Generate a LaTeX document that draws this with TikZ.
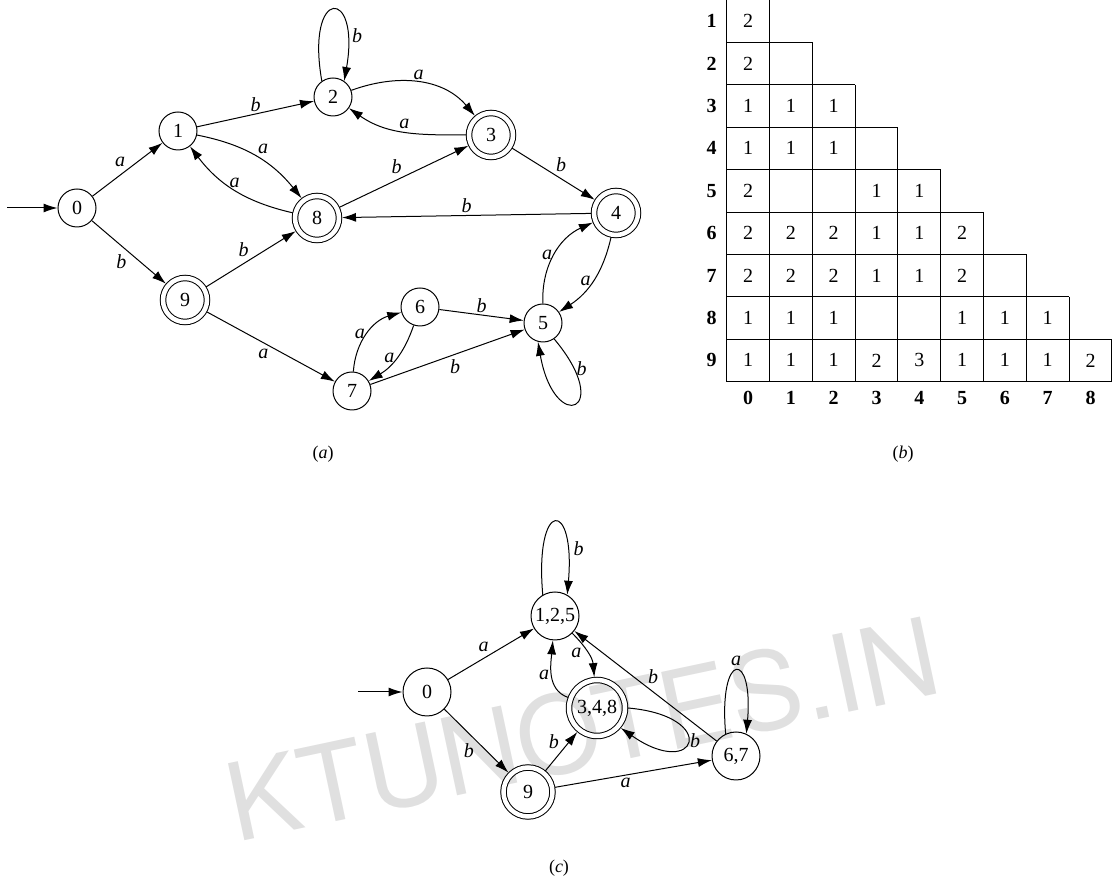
\documentclass[tikz,border=0pt]{standalone}
\usepackage{fontspec}
\setmainfont{Liberation Serif}
\newfontfamily\markfont{TeX Gyre Heros}
\usetikzlibrary{arrows.meta}

\begin{document}
\begin{tikzpicture}[x=1pt, y=1pt]
	\tikzset{
		state/.style={circle, draw, line width=1pt, minimum size=38pt, inner sep=0pt, font=\fontsize{20}{22}\selectfont},
		final/.style={state, double, double distance=4.5pt, minimum size=44pt, outer sep=3pt},
		bigstate/.style={state, minimum size=48pt},
		bigfinal/.style={final, minimum size=49pt},
		edge/.style={draw, line width=1pt, -{Latex[length=14pt,width=9pt]}},
		lbl/.style={font=\fontsize{20}{22}\selectfont\itshape, inner sep=2pt},
		grid/.style={draw, line width=0.9pt},
		cell/.style={font=\fontsize{20}{22}\selectfont},
		head/.style={font=\fontsize{20}{22}\selectfont\bfseries},
		caption/.style={font=\fontsize{18}{20}\selectfont}
	}
	\useasboundingbox (0,0) rectangle (1112,878);
	
	% Watermark
	\node[font=\markfont\fontsize{108}{108}\selectfont, text=black!12, rotate=12, anchor=base west, inner sep=0pt] (mark) at (236,35) {KTUNOTES.IN};
	
	% Part (a)
	\node[state] (n0) at (77,670) {0};
	\node[state] (n1) at (178,747) {1};
	\node[state] (n2) at (333,781) {2};
	\node[final] (n3) at (491,743) {3};
	\node[final] (n4) at (616,665) {4};
	\node[state] (n5) at (543,555) {5};
	\node[state] (n6) at (420,571) {6};
	\node[state] (n7) at (352,487) {7};
	\node[final] (n8) at (317,660) {8};
	\node[final] (n9) at (185,578) {9};
	\coordinate (inA) at (7,670);
	
	\draw[edge] (inA) -- (n0);
	\draw[edge] (n0) -- node[lbl, above left] {a} (n1);
	\draw[edge] (n0) -- node[lbl, below left] {b} (n9);
	\draw[edge] (n1) -- node[lbl, above] {b} (n2);
	\draw[edge] (n1) to[bend left=20] node[lbl, above right] {a} (n8);
	\draw[edge] (n8) to[bend left=20] node[lbl, above] {a} (n1);
	\draw[edge] (n2.125) to[out=100, in=80, distance=96pt] node[lbl, right=3pt, pos=0.8] {b} (n2.55);
	\draw[edge] (n2) to[out=20, in=130] node[lbl, above] {a} (n3);
	\draw[edge] (n3) to[out=180, in=-35] node[lbl, above] {a} (n2);
	\draw[edge] (n8) -- node[lbl, above left] {b} (n3);
	\draw[edge] (n3) -- node[lbl, above right] {b} (n4);
	\draw[edge] (n4) -- node[lbl, above] {b} (n8);
	\draw[edge] (n9) -- node[lbl, above left] {b} (n8);
	\draw[edge] (n9) -- node[lbl, below left] {a} (n7);
	\draw[edge] (n7) to[bend left=35] node[lbl, left] {a} (n6);
	\draw[edge] (n6) to[bend left=20] node[lbl, left] {a} (n7);
	\draw[edge] (n6) -- node[lbl, above] {b} (n5);
	\draw[edge] (n7) -- node[lbl, below right] {b} (n5);
	\draw[edge] (n5) to[bend left=34] node[lbl, left] {a} (n4);
	\draw[edge] (n4) to[bend left=22] node[lbl, left] {a} (n5);
	\draw[edge] (n5.-55) to[out=-50, in=-80, distance=95pt] node[lbl, right, pos=0.15] {b} (n5.-105);
	
	% Part (b)
	\foreach \k in {0,...,9} {
		\pgfmathsetmacro\ytop{878-(max(\k,1)-1)*42.4}
		\draw[grid] ({726.7+42.8*\k}, \ytop) -- ({726.7+42.8*\k}, 496.4);
	}
	\foreach \i in {1,...,9} {
		\pgfmathsetmacro\xend{726.7+42.8*min(\i+1,9)}
		\draw[grid] (726.7, {878-42.4*\i}) -- (\xend, {878-42.4*\i});
		\node[head] (r\i) at (711.7, {899.2-42.4*\i}) {\i};
	}
	\foreach \j in {0,...,8}
		\node[head] (c\j) at ({748.1+42.8*\j}, 480) {\j};
	\foreach \i/\j/\v in {1/0/2, 2/0/2,
			3/0/1, 3/1/1, 3/2/1,
			4/0/1, 4/1/1, 4/2/1,
			5/0/2, 5/3/1, 5/4/1,
			6/0/2, 6/1/2, 6/2/2, 6/3/1, 6/4/1, 6/5/2,
			7/0/2, 7/1/2, 7/2/2, 7/3/1, 7/4/1, 7/5/2,
			8/0/1, 8/1/1, 8/2/1, 8/5/1, 8/6/1, 8/7/1,
			9/0/1, 9/1/1, 9/2/1, 9/3/2, 9/4/3, 9/5/1, 9/6/1, 9/7/1, 9/8/2}
		\node[cell] (v\i\j) at ({748.1+42.8*\j}, {899.2-42.4*\i}) {\v};
	
	% Part (c)
	\node[bigstate] (m0) at (427,186) {0};
	\node[bigstate] (m125) at (555,262) {1,2,5};
	\node[bigfinal, minimum size=56pt] (m348) at (597,170) {3,4,8};
	\node[bigfinal] (m9) at (528,86) {9};
	\node[bigstate] (m67) at (736,122) {6,7};
	\coordinate (inC) at (358,186);
	
	\draw[edge] (inC) -- (m0);
	\draw[edge] (m0) -- node[lbl, above left] {a} (m125);
	\draw[edge] (m0) -- node[lbl, below left] {b} (m9);
	\draw[edge] (m125.120) to[out=95, in=85, distance=97pt] node[lbl, right=4pt, pos=0.8] {b} (m125.60);
	\draw[edge] (m125) to[out=-45, in=95] node[lbl, left=4pt] {a} (m348);
	\draw[edge] (m348) to[out=160, in=-95] node[lbl, left] {a} (m125);
	\draw[edge] (m348.0) to[out=-5, in=-35, distance=93pt] node[lbl, right] {b} (m348.-40);
	\draw[edge] (m9) -- node[lbl, above left] {b} (m348);
	\draw[edge] (m9) -- node[lbl, below, pos=0.45] {a} (m67);
	\draw[edge] (m67) -- node[lbl, above right] {b} (m125);
	\draw[edge] (m67.115) to[out=95, in=85, distance=84pt] node[lbl, above=3pt] {a} (m67.65);
	
	% Captions
	\node[caption] (capA) at (323,424) {(\textit{a})};
	\node[caption] (capB) at (903,424) {(\textit{b})};
	\node[caption] (capC) at (559,10) {(\textit{c})};
\end{tikzpicture}
\end{document}
